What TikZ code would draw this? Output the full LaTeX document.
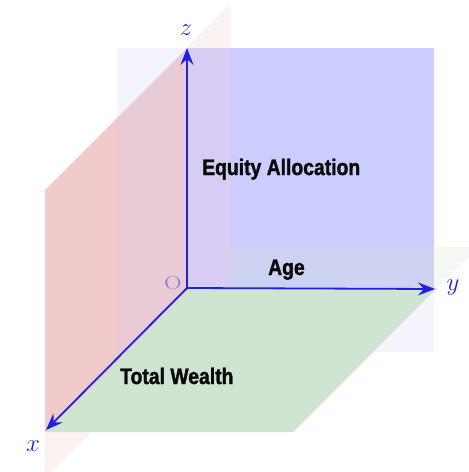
\documentclass[tikz,border=0pt]{standalone}
\usepackage{graphicx}
\usepackage{fontspec}
\newfontfamily\labelfont[BoldFeatures={FakeBold=1.6}]{Liberation Sans}
\usetikzlibrary{arrows.meta}
\definecolor{redS}{HTML}{F1CACA}
\definecolor{redP}{HTML}{FDF2F2}
\definecolor{blueP}{HTML}{F4F4FD}
\definecolor{mauve}{HTML}{E9CBD8}
\definecolor{blueS}{HTML}{CCCCFF}
\definecolor{purp}{HTML}{D7CCF2}
\definecolor{ageC}{HTML}{CDD2F0}
\definecolor{greenS}{HTML}{CFE4D1}
\definecolor{greenP}{HTML}{F3F8F3}
\definecolor{axisblue}{HTML}{2020E0}
\definecolor{olab}{HTML}{8080C4}
\definecolor{txt}{HTML}{0A0A0A}
\begin{document}
\begin{tikzpicture}[x=1pt,y=-1pt,
  axis/.style={draw=axisblue, line width=1.8pt, -{Stealth[length=17pt,width=13pt,inset=6pt]}},
  axlab/.style={text=axisblue, inner sep=0pt, font=\fontsize{23}{23}\selectfont},
  lab/.style={text=txt, inner sep=0pt, anchor=base west, font=\labelfont\bfseries\fontsize{22.5}{22.5}\selectfont}]
\useasboundingbox (0,0) rectangle (469,472);
\fill[white] (0,0) rectangle (469,472);
% red plane (xz)
\fill[redS] (45,190) -- (230,5) -- (230,292) -- (45,477) -- cycle;
\fill[redP] (187,48) -- (230,5) -- (230,48) -- cycle;
\fill[redP] (45,432) -- (90,432) -- (45,477) -- cycle;
% blue plane (yz), part behind the red plane
\fill[blueP] (117,48) rectangle (187,352);
\begin{scope}
  \clip (117,48) rectangle (187,352);
  \fill[mauve] (45,190) -- (230,5) -- (230,292) -- (45,477) -- cycle;
\end{scope}
\fill[blueS] (187,48) rectangle (434,352);
\fill[purp] (187,48) rectangle (230,288);
% green plane (xy)
\fill[ageC] (230,247) rectangle (434,288);
\fill[greenP] (434,247) -- (469,247) -- (469,256) -- (434,291) -- cycle;
\fill[greenS] (190,288) -- (437,288) -- (293,432) -- (46,432) -- cycle;
\fill[blueP] (434,291) -- (434,352) -- (373,352) -- cycle;
% axes
\coordinate (O) at (187,288);
\coordinate (zt) at (187,48);
\coordinate (yt) at (435,289);
\coordinate (xt) at (46,430);
\draw[axis] (O) -- (zt);
\draw[axis] (O) -- (yt);
\draw[axis] (O) -- (xt);
\node[axlab] (zl) at (186,30) {$z$};
\node[axlab] (yl) at (453,288) {$y$};
\node[axlab] (xl) at (33,446) {$x$};
\node[text=olab, inner sep=0pt, font=\fontsize{19}{19}\selectfont] (ol) at (173,283) {\scalebox{1.25}[1]{O}};
% texts
\node[lab] (eq) at (202,175) {\scalebox{0.86}[1]{Equity Allocation}};
\node[lab] (age) at (268,275) {\scalebox{0.86}[1]{Age}};
\node[lab] (tw) at (120,384) {\scalebox{0.86}[1]{Total Wealth}};
\end{tikzpicture}
\end{document}
